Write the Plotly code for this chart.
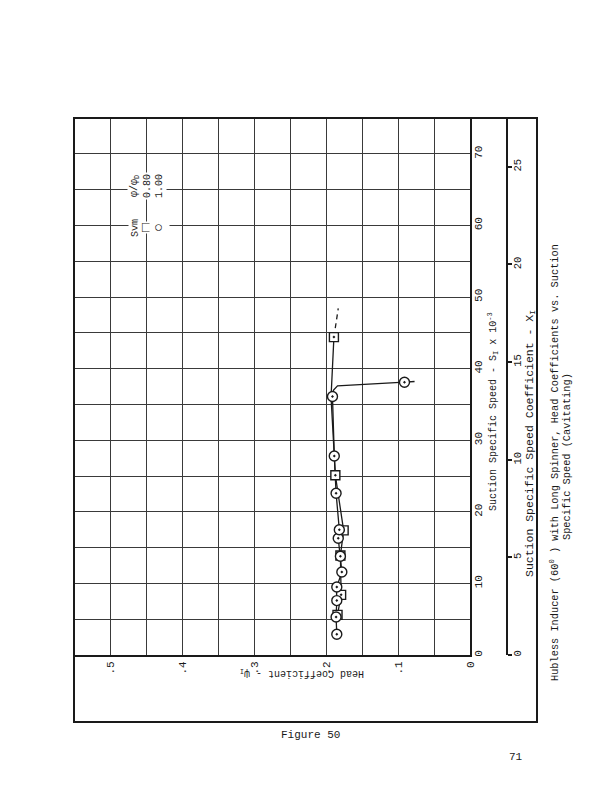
import plotly.graph_objects as go

FONT = "Liberation Mono, Courier New, monospace"
INK = "#1a1a1a"
GRID = "#3a3a3a"

# ---------------- data ----------------
# phi/phiD = 1.00 (circles)
circle_S = [2.9, 5.3, 7.6, 9.5, 11.6, 13.8, 16.3, 17.5, 22.6, 27.8, 36.1, 38.1]
circle_psi = [0.185, 0.186, 0.185, 0.185, 0.178, 0.180, 0.183, 0.1815, 0.186, 0.1885, 0.191, 0.091]
# phi/phiD = 0.80 (squares)
square_S = [5.6, 8.4, 13.9, 17.4, 25.1, 44.4]
square_psi = [0.184, 0.179, 0.180, 0.1755, 0.187, 0.189]

# faired curves drawn through the data
circle_fair_S = [2.9, 5.3, 7.6, 9.5, 11.6, 13.8, 16.3, 17.5, 22.6, 27.8, 36.1, 37.0, 37.6, 38.1, 38.2]
circle_fair_psi = [0.185, 0.186, 0.185, 0.185, 0.178, 0.180, 0.183, 0.1815, 0.186, 0.1885, 0.191,
                   0.1895, 0.184, 0.091, 0.077]
square_fair_S = [5.6, 8.4, 13.9, 17.4, 25.1, 36.0, 44.4]
square_fair_psi = [0.184, 0.179, 0.180, 0.1755, 0.187, 0.193, 0.189]
square_ext_S = [44.4, 48.4]
square_ext_psi = [0.189, 0.183]

# axes
head_ticks = [0.0, 0.1, 0.2, 0.3, 0.4, 0.5]
head_labels = ["0", ".1", ".2", ".3", ".4", ".5"]
head_grid = [0.05, 0.15, 0.25, 0.35, 0.45, 0.55]
S_ticks = [0, 10, 20, 30, 40, 50, 60, 70]
S_labels = ["0", "10", "20", "30", "40", "50", "60", "70"]
S_grid = [5, 15, 25, 35, 45, 55, 65, 75]
X_ticks = [0, 5, 10, 15, 20, 25]
X_labels = ["0", "5", "10", "15", "20", "25"]

# ---------------- layout geometry (pixels) ----------------
L, R, T, B = 74, 540, 118, 655
W, H = R - L, B - T


def PX(x):
    return (x - L) / W


def PY(y):
    return (B - y) / H


fig = go.Figure()

fig.add_trace(go.Scatter(x=circle_fair_psi, y=circle_fair_S, mode="lines",
                         line=dict(color=INK, width=1.3), hoverinfo="skip"))
fig.add_trace(go.Scatter(x=square_fair_psi, y=square_fair_S, mode="lines",
                         line=dict(color=INK, width=1.3), hoverinfo="skip"))
fig.add_trace(go.Scatter(x=square_ext_psi, y=square_ext_S, mode="lines",
                         line=dict(color=INK, width=1.3, dash="5px,4px"), hoverinfo="skip"))
fig.add_trace(go.Scatter(x=square_psi, y=square_S, mode="markers", name="0.80",
                         marker=dict(symbol="square-dot", size=9, color="white",
                                     line=dict(color=INK, width=1.4))))
fig.add_trace(go.Scatter(x=circle_psi, y=circle_S, mode="markers", name="1.00",
                         marker=dict(symbol="circle-dot", size=10, color="white",
                                     line=dict(color=INK, width=1.4))))
# carrier for the second (X_I) scale
fig.add_trace(go.Scatter(x=[None], y=[None], yaxis="y2", mode="markers", hoverinfo="skip"))

tick_font = dict(family=FONT, size=11, color=INK)
grid_minor = dict(showgrid=True, gridcolor=GRID, gridwidth=1, ticks="")

fig.update_layout(
    width=610, height=792,
    margin=dict(l=L, r=610 - R, t=T, b=792 - B, pad=0),
    paper_bgcolor="white", plot_bgcolor="white",
    showlegend=False,
    xaxis=dict(domain=[0, (470 - L) / W], range=[0.55, 0], tickmode="array",
               tickvals=head_ticks, ticktext=head_labels, tickangle=-90, tickfont=tick_font,
               showgrid=True, gridcolor=GRID, gridwidth=1, zeroline=False,
               minor=dict(tickmode="array", tickvals=head_grid, **grid_minor),
               showline=True, linecolor=INK, linewidth=2, ticks="", ticklabelstandoff=0),
    yaxis=dict(anchor="x", side="right", range=[0, 75], tickmode="array",
               tickvals=S_ticks, ticktext=S_labels, tickangle=-90, tickfont=tick_font,
               showgrid=True, gridcolor=GRID, gridwidth=1, zeroline=False,
               minor=dict(tickmode="array", tickvals=S_grid, **grid_minor),
               showline=True, linecolor=INK, linewidth=2, ticks="", ticklabelstandoff=-3),
    yaxis2=dict(overlaying="y", anchor="free", position=(507 - L) / W, side="right",
                range=[0, 27.5], tickmode="array", tickvals=X_ticks, ticktext=X_labels,
                tickangle=-90, tickfont=dict(family=FONT, size=10.5, color=INK),
                showgrid=False, zeroline=False, showline=True, linecolor=INK, linewidth=2,
                ticks="outside", ticklen=4, tickwidth=2, tickcolor=INK, ticklabelstandoff=-4),
)

# outer frame
fig.add_shape(type="rect", xref="paper", yref="paper", x0=0, x1=PX(537), y0=PY(722), y1=1,
              line=dict(color=INK, width=2), layer="above")


def ann(text, x, y, size=10, angle=-90, bg=None, **kw):
    d = dict(text=text, x=PX(x), y=PY(y), xref="paper", yref="paper", showarrow=False,
             textangle=angle, xanchor="center", yanchor="middle",
             font=dict(family=FONT, size=size, color=INK))
    if bg:
        d["bgcolor"] = bg
    d.update(kw)
    fig.add_annotation(**d)


ann("Suction Specific Speed - S<sub>I</sub> x 10<sup>-3</sup>", 493, 412, size=10)
ann("Suction Specific Speed Coefficient - X<sub>I</sub>", 530, 444, size=11.5)
ann("Head Coefficient - \u03c8<sub>I</sub>", 302, 673, size=10, angle=180)

# in-plot legend
ann("Sym", 135, 228, bg="white")
ann("\u03c6/\u03c6<sub>D</sub>", 135, 186, bg="white")
ann("\u25a1", 147, 228, size=15, bg="white")
ann("0.80", 147, 186, bg="white")
ann("\u25cb", 159, 228, size=15, bg="white")
ann("1.00", 159, 186, bg="white")

# caption and page text
ann("Hubless Inducer (60<sup>0</sup> ) with Long Spinner, Head Coefficients vs. Suction",
    555, 463, size=10.3)
ann("Specific Speed (Cavitating)", 567, 457, size=10.3)
ann("Figure 50", 310, 735, size=11, angle=0)
ann("71", 516, 757, size=11, angle=0)

fig.write_html("out.html", config={"displayModeBar": False},
               post_script="document.body.style.margin='0px';")
